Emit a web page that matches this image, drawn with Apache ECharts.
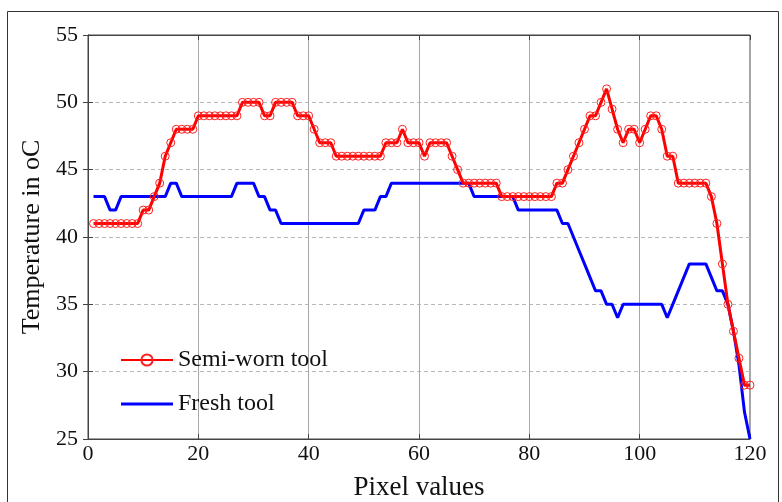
<!DOCTYPE html>
<html>
<head>
<meta charset="utf-8">
<script src="https://cdn.jsdelivr.net/npm/echarts@6/dist/echarts.min.js"></script>
<style>
html,body{margin:0;padding:0;background:#fff;}
#chart{width:782px;height:502px;}
</style>
</head>
<body>
<div id="chart"></div>
<script>
// Semi-worn tool temperatures (°C), pixel 1..120
const semiWorn = [
  41,41,41,41,41,41,41,41,41,42,
  42,43,44,46,47,48,48,48,48,49,
  49,49,49,49,49,49,49,50,50,50,
  50,49,49,50,50,50,50,49,49,49,
  48,47,47,47,46,46,46,46,46,46,
  46,46,46,47,47,47,48,47,47,47,
  46,47,47,47,47,46,45,44,44,44,
  44,44,44,44,43,43,43,43,43,43,
  43,43,43,43,44,44,45,46,47,48,
  49,49,50,51,49.5,48,47,48,48,47,
  48,49,49,48,46,46,44,44,44,44,
  44,44,43,41,38,35,33,31,29,29
];
// Fresh tool temperatures (°C), pixel 1..120
const fresh = [
  43,43,43,42,42,43,43,43,43,43,
  43,43,43,43,44,44,43,43,43,43,
  43,43,43,43,43,43,44,44,44,44,
  43,43,42,42,41,41,41,41,41,41,
  41,41,41,41,41,41,41,41,41,42,
  42,42,43,43,44,44,44,44,44,44,
  44,44,44,44,44,44,44,44,44,43,
  43,43,43,43,43,43,43,42,42,42,
  42,42,42,42,42,41,41,40,39,38,
  37,36,36,35,35,34,35,35,35,35,
  35,35,35,35,34,35,36,37,38,38,
  38,38,37,36,36,35,33,30.5,27,25
];
const seriesNames = ['Semi-worn tool', 'Fresh tool'];
const xTicks = [0, 20, 40, 60, 80, 100, 120];
const yTicks = [25, 30, 35, 40, 45, 50, 55];

const pixels = semiWorn.map((_, i) => i + 1);
const redData = pixels.map((p, i) => [p, semiWorn[i]]);
const blueData = pixels.map((p, i) => [p, fresh[i]]);

const font = '"Liberation Serif", "Times New Roman", serif';
const chart = echarts.init(document.getElementById('chart'), null, {renderer: 'canvas'});

const xCommon = {
  type: 'value', min: xTicks[0], max: xTicks[xTicks.length - 1], interval: 20
};
const yCommon = {
  type: 'value', min: yTicks[0], max: yTicks[yTicks.length - 1], interval: 5
};

chart.setOption({
  animation: false,
  backgroundColor: '#fff',
  grid: {left: 88, top: 35, right: 32, bottom: 63, show: true, borderColor: '#444', borderWidth: 1,
         containLabel: false, outerBoundsMode: 'none'},
  graphic: [{
    type: 'rect', left: 5, top: 9, z: -1,
    shape: {width: 771, height: 492},
    style: {fill: 'none', stroke: '#333', lineWidth: 1}
  }],
  legend: {
    left: 115, top: 343, orient: 'vertical', itemGap: 20,
    itemWidth: 52, itemHeight: 14,
    textStyle: {fontFamily: font, fontSize: 24, color: '#111'},
    data: [
      {name: seriesNames[0]},
      {name: seriesNames[1], icon: 'path://M0,0 L52,0 L52,3 L0,3 Z'}
    ]
  },
  xAxis: [
    Object.assign({}, xCommon, {
      position: 'bottom',
      name: 'Pixel values', nameLocation: 'middle', nameGap: 35,
      nameTextStyle: {fontFamily: font, fontSize: 27, color: '#111'},
      axisLine: {show: true, lineStyle: {color: '#444'}},
      axisTick: {show: true, inside: true, length: 5, lineStyle: {color: '#444'}},
      axisLabel: {fontFamily: font, fontSize: 22, color: '#111', margin: 4},
      splitLine: {show: true, lineStyle: {color: '#a8a8a8', width: 1}}
    }),
    Object.assign({}, xCommon, {
      position: 'top',
      axisLine: {show: true, lineStyle: {color: '#444'}},
      axisTick: {show: true, inside: true, length: 5, lineStyle: {color: '#444'}},
      axisLabel: {show: false},
      splitLine: {show: false}
    })
  ],
  yAxis: [
    Object.assign({}, yCommon, {
      position: 'left',
      name: 'Temperature in oC', nameLocation: 'middle', nameGap: 38,
      nameTextStyle: {fontFamily: font, fontSize: 26, color: '#111'},
      axisLine: {show: true, lineStyle: {color: '#444'}},
      axisTick: {show: true, inside: true, length: 5, lineStyle: {color: '#444'}},
      axisLabel: {fontFamily: font, fontSize: 22, color: '#111', margin: 10},
      splitLine: {show: true, lineStyle: {color: '#b8b8b8', width: 1, type: [4, 3]}}
    }),
    Object.assign({}, yCommon, {
      position: 'right',
      axisLine: {show: true, lineStyle: {color: '#444'}},
      axisTick: {show: true, inside: true, length: 5, lineStyle: {color: '#444'}},
      axisLabel: {show: false},
      splitLine: {show: false}
    })
  ],
  series: [
    {
      name: seriesNames[0], type: 'line', xAxisIndex: 0, yAxisIndex: 0,
      data: redData,
      lineStyle: {color: '#ff0000', width: 3},
      symbol: 'circle', symbolSize: 8, showSymbol: true,
      itemStyle: {color: 'rgba(255,255,255,0)', borderColor: '#ff2020', borderWidth: 1},
      z: 3
    },
    {
      name: seriesNames[1], type: 'line', xAxisIndex: 0, yAxisIndex: 0,
      data: blueData,
      lineStyle: {color: '#0000ff', width: 3},
      itemStyle: {color: '#0000ff'},
      symbol: 'none',
      z: 2
    }
  ]
});
</script>
</body>
</html>
